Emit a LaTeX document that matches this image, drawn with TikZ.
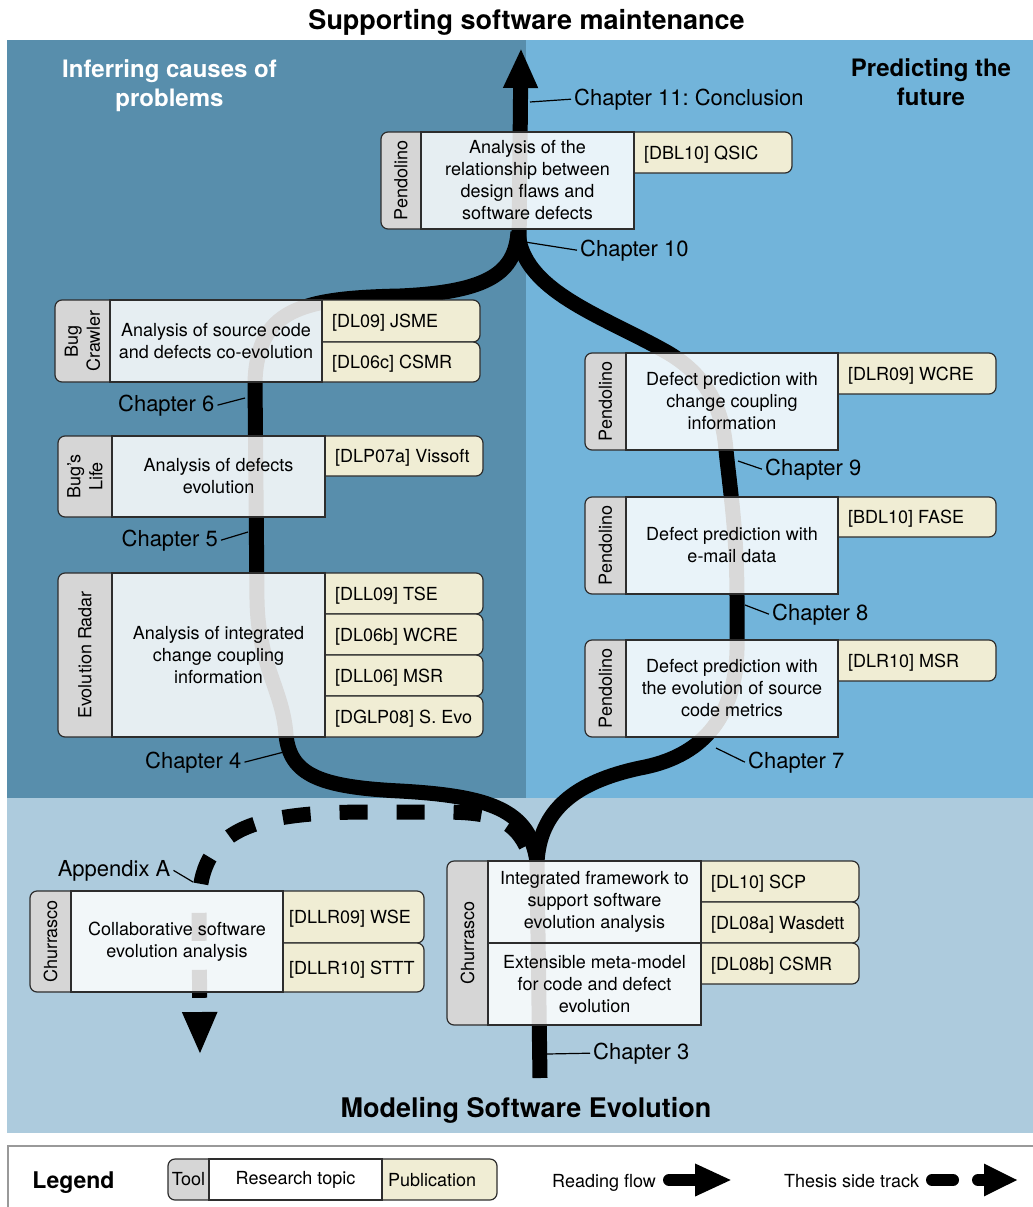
\documentclass[tikz,border=0pt]{standalone}
\usepackage{fontspec}
\setmainfont{TeX Gyre Heros}
\usetikzlibrary{arrows.meta}
\frenchspacing

\definecolor{causebg}{RGB}{88,142,172}
\definecolor{predictbg}{RGB}{114,180,218}
\definecolor{modelbg}{RGB}{173,203,221}
\definecolor{toolgray}{RGB}{214,214,214}
\definecolor{pubcream}{RGB}{240,237,212}
\definecolor{boxline}{RGB}{45,45,45}

\newcommand\boxfont{\fontsize{18}{22}\selectfont}
\newcommand\chapfont{\fontsize{22}{26}\selectfont}

\tikzset{
  flow/.style={line width=15pt},
  sidetrack/.style={flow, dash pattern=on 28pt off 29pt},
  toolbox/.style={draw=boxline, fill=toolgray, line width=1.2pt, rounded corners=7pt},
  pubbox/.style={draw=boxline, fill=pubcream, line width=1.2pt, rounded corners=7pt},
  topicbox/.style={draw=boxline, fill=white, fill opacity=0.85, text opacity=1,
    line width=1.2pt, align=center, font=\boxfont, inner sep=0pt},
  toollabel/.style={rotate=90, align=center, font=\boxfont},
  publabel/.style={anchor=west, font=\boxfont, inner sep=0pt, text height=13pt, text depth=0pt},
  chapter/.style={font=\chapfont, inner sep=3pt},
  leader/.style={line width=1.2pt},
  titletext/.style={font=\fontsize{27}{32}\selectfont\bfseries, inner sep=0pt},
  headtext/.style={font=\fontsize{24}{29}\selectfont\bfseries, align=center, inner sep=0pt},
  legendframe/.style={draw=black!40, line width=1.5pt},
}

% tool: name, x1, y1, x2, y2, text
\newcommand{\toolcell}[6]{%
  \filldraw[toolbox] (#4,#3) -- (#2,#3) -- (#2,#5) -- (#4,#5);
  \node[toollabel] (#1) at ({(#2+#4)/2},{(#3+#5)/2}) {#6};}
% publication: [offset] name, x1, y1, x2, y2, text
\newcommand{\pubcell}[7][10]{%
  \filldraw[pubbox] (#3,#4) -- (#5,#4) -- (#5,#6) -- (#3,#6);
  \node[publabel] (#2) at ({#3+#1},{(#4+#6)/2}) {#7};}
% research topic: name, x1, y1, x2, y2, text
\newcommand{\topiccell}[6]{%
  \node[topicbox, minimum width={(#4-#2)*1pt}, minimum height={(#5-#3)*1pt}]
    (#1) at ({(#2+#4)/2},{(#3+#5)/2}) {#6};}

\begin{document}
\begin{tikzpicture}[x=1pt,y=-1pt]
  \useasboundingbox (0,0) rectangle (1033,1207);
  \fill[causebg] (7,40) rectangle (526,798);
  \fill[predictbg] (526,40) rectangle (1040,798);
  \fill[modelbg] (7,798) rectangle (1040,1133);
  \draw[legendframe] (8,1146) rectangle (1045,1220);

  \node[titletext, anchor=base] (maint) at (526.5,30) {Supporting software maintenance};
  \node[headtext, text=white] (causes) at (169.5,86) {Inferring causes of\\problems};
  \node[headtext] (predict) at (931,82) {Predicting the\\future};
  \node[titletext, anchor=base] (model) at (526,1117) {Modeling Software Evolution};

  % reading flow
  \coordinate (root) at (540,1078);
  \coordinate (split) at (537,862);
  \coordinate (merge) at (518,232);
  \coordinate (stem) at (519,250);
  \coordinate (goal) at (521,48);
  \draw[flow] (root) -- (split) .. controls (530,810) and (490,796) .. (400,791)
    .. controls (320,787) and (290,775) .. (286,735)
    .. controls (283,690) and (258,665) .. (257,600) -- (255,381)
    .. controls (258,310) and (300,298) .. (400,296)
    .. controls (490,292) and (515,272) .. (merge);
  \draw[flow] (split) .. controls (540,810) and (575,782) .. (640,768)
    .. controls (700,757) and (735,720) .. (737,650) -- (737,600)
    .. controls (737,530) and (730,490) .. (726,450)
    .. controls (722,400) and (700,370) .. (663,350)
    .. controls (600,315) and (522,290) .. (merge);
  \draw[flow, -{Triangle[width=32pt,length=40pt]}] (stem) -- (goal);

  % side track
  \coordinate (sidestart) at (526,846);
  \coordinate (sideend) at (200,1055);
  \draw[sidetrack, -{Triangle[width=32pt,length=43pt]}] (sidestart)
    .. controls (512,818) and (490,812) .. (440,812) -- (370,812)
    .. controls (250,812) and (200,830) .. (199,905) -- (sideend);

  % boxes
  \toolcell{pendFlaws}{381}{132}{421}{229}{Pendolino}
  \pubcell{pubQSIC}{634}{132}{792}{173}{[DBL10] QSIC}
  \topiccell{flaws}{421}{132}{634}{229}{Analysis of the\\relationship between\\design flaws and\\software defects}

  \toolcell{bugCrawler}{55}{300}{110}{382}{Bug\\Crawler}
  \pubcell{pubJSME}{322}{300}{480}{342}{[DL09] JSME}
  \pubcell{pubCSMRc}{322}{342}{480}{382}{[DL06c] CSMR}
  \topiccell{coevol}{110}{300}{322}{382}{Analysis of source code\\and defects co-evolution}

  \toolcell{bugsLife}{58}{436}{112}{517}{Bug's\\Life}
  \pubcell{pubVissoft}{325}{436}{483}{476}{[DLP07a] Vissoft}
  \topiccell{defEvol}{112}{436}{325}{517}{Analysis of defects\\evolution}

  \toolcell{evoRadar}{58}{573}{112}{737}{Evolution Radar}
  \pubcell{pubTSE}{325}{573}{483}{614}{[DLL09] TSE}
  \pubcell{pubWCREb}{325}{614}{483}{655}{[DL06b] WCRE}
  \pubcell{pubMSRa}{325}{655}{483}{696}{[DLL06] MSR}
  \pubcell{pubSEvo}{325}{696}{483}{737}{[DGLP08] S. Evo}
  \topiccell{coupling}{112}{573}{325}{737}{Analysis of integrated\\change coupling\\information}

  \toolcell{pendCoupling}{585}{353}{626}{450}{Pendolino}
  \pubcell{pubWCREa}{838}{353}{996}{394}{[DLR09] WCRE}
  \topiccell{predCoupling}{626}{353}{838}{450}{Defect prediction with\\change coupling\\information}

  \toolcell{pendMail}{585}{497}{626}{594}{Pendolino}
  \pubcell{pubFASE}{838}{497}{996}{537}{[BDL10] FASE}
  \topiccell{predMail}{626}{497}{838}{594}{Defect prediction with\\e-mail data}

  \toolcell{pendMetrics}{585}{640}{626}{737}{Pendolino}
  \pubcell{pubMSRb}{838}{640}{996}{681}{[DLR10] MSR}
  \topiccell{predMetrics}{626}{640}{838}{737}{Defect prediction with\\the evolution of source\\code metrics}

  \toolcell{churrCollab}{30}{891}{71}{992}{Churrasco}
  \pubcell[6]{pubWSE}{283}{891}{424}{943}{[DLLR09] WSE}
  \pubcell[6]{pubSTTT}{283}{943}{424}{992}{[DLLR10] STTT}
  \topiccell{collab}{71}{891}{283}{992}{Collaborative software\\evolution analysis}

  \toolcell{churrModel}{447}{861}{488}{1025}{Churrasco}
  \pubcell{pubSCP}{701}{861}{859}{902}{[DL10] SCP}
  \pubcell{pubWasdett}{701}{902}{859}{943}{[DL08a] Wasdett}
  \pubcell{pubCSMRb}{701}{943}{859}{984}{[DL08b] CSMR}
  \topiccell{framework}{488}{861}{701}{943}{Integrated framework to\\support software\\evolution analysis}
  \topiccell{metamodel}{488}{943}{701}{1025}{Extensible meta-model\\for code and defect\\evolution}

  % chapters
  \coordinate (ch11p) at (530,102);
  \coordinate (ch10p) at (525,242);
  \coordinate (ch9p) at (738,461);
  \coordinate (ch8p) at (745,605);
  \coordinate (ch7p) at (716,748);
  \coordinate (ch6p) at (245,398);
  \coordinate (ch5p) at (248,532);
  \coordinate (ch4p) at (284,752);
  \coordinate (ch3p) at (547,1054);
  \coordinate (appAp) at (193,882);
  \node[chapter, anchor=base west] (ch11) at (571,105) {Chapter 11: Conclusion};
  \node[chapter, anchor=base west] (ch10) at (577,256) {Chapter 10};
  \node[chapter, anchor=base west] (ch9) at (762,475) {Chapter 9};
  \node[chapter, anchor=base west] (ch8) at (769,620) {Chapter 8};
  \node[chapter, anchor=base west] (ch7) at (745,768) {Chapter 7};
  \node[chapter, anchor=base east] (ch6) at (217.5,411) {Chapter 6};
  \node[chapter, anchor=base east] (ch5) at (221,546) {Chapter 5};
  \node[chapter, anchor=base east] (ch4) at (244.5,768) {Chapter 4};
  \node[chapter, anchor=base west] (ch3) at (590,1059) {Chapter 3};
  \node[chapter, anchor=base east] (appA) at (173.5,876) {Appendix A};
  \draw[leader] (ch11p) -- (ch11.west);
  \draw[leader] (ch10p) -- (ch10.west);
  \draw[leader] (ch9p) -- (ch9.west);
  \draw[leader] (ch8p) -- (ch8.west);
  \draw[leader] (ch7p) -- (ch7.west);
  \draw[leader] (ch6p) -- (ch6.east);
  \draw[leader] (ch5p) -- (ch5.east);
  \draw[leader] (ch4p) -- (ch4.east);
  \draw[leader] (ch3p) -- (ch3.west);
  \draw[leader] (appAp) -- (appA.east);

  % legend
  \node[font=\fontsize{23}{28}\selectfont\bfseries, anchor=base, inner sep=0pt] (legend) at (73.5,1188) {Legend};
  \filldraw[toolbox] (209,1159) -- (168,1159) -- (168,1200) -- (209,1200);
  \node[font=\boxfont] (legTool) at (188.5,1179.5) {Tool};
  \pubcell[6]{legPub}{382}{1159}{497}{1200}{Publication}
  \topiccell{legTopic}{209}{1159}{382}{1200}{Research topic}
  \node[font=\boxfont, anchor=base west, inner sep=0pt] (legRead) at (552,1187) {Reading flow};
  \coordinate (rf1) at (669,1180);
  \coordinate (rf2) at (732,1180);
  \draw[line width=12pt, line cap=round, -{Triangle[width=30pt,length=37pt]}] (rf1) -- (rf2);
  \node[font=\boxfont, anchor=base west, inner sep=0pt] (legSide) at (784,1187) {Thesis side track};
  \coordinate (st1) at (932,1180);
  \coordinate (st2) at (953,1180);
  \coordinate (st3) at (978,1180);
  \coordinate (st4) at (1018,1180);
  \draw[line width=12pt, line cap=round] (st1) -- (st2);
  \draw[line width=12pt, line cap=round, -{Triangle[width=30pt,length=34pt]}] (st3) -- (st4);
\end{tikzpicture}
\end{document}
